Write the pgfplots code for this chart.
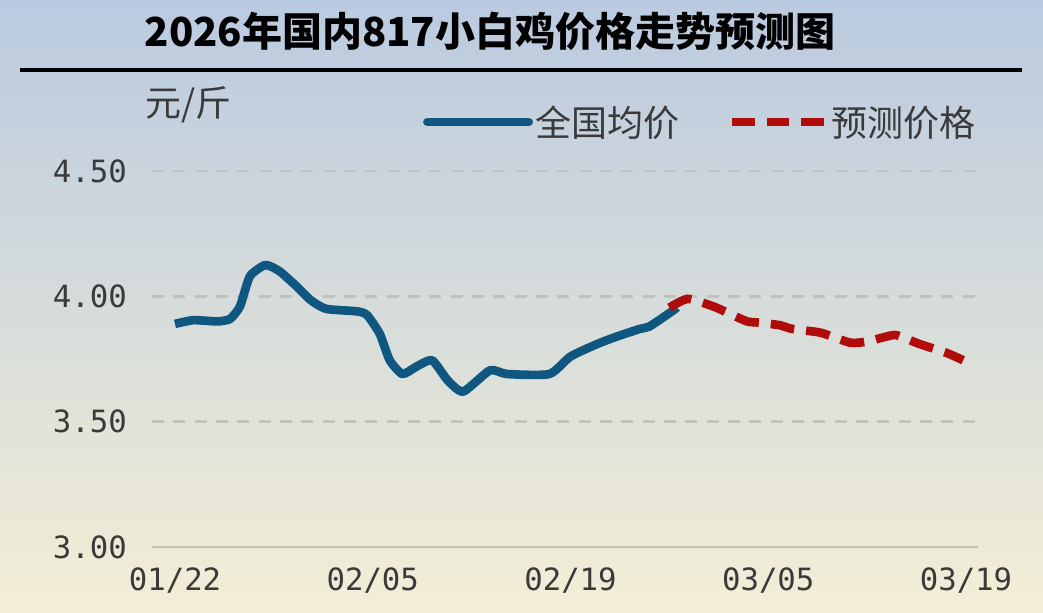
\documentclass[border=0pt]{standalone}
\usepackage{pgfplots}
\pgfplotsset{compat=1.18}
\usepackage{fontspec}
\setmainfont{Liberation Sans}
\setmonofont{DejaVu Sans Mono}
\newfontfamily\cjk{Noto Sans CJK SC}
\definecolor{bgtop}{HTML}{BACAE0}
\definecolor{bgmid}{HTML}{E6E7E2}
\definecolor{bgbot}{HTML}{F3EED6}
\definecolor{blueline}{HTML}{0F5780}
\definecolor{redline}{HTML}{B00C0C}
\definecolor{gridc}{HTML}{C2C2BA}
\definecolor{txt}{HTML}{3A3A3A}
\begin{document}
\begin{tikzpicture}
\path[use as bounding box] (0,0) rectangle (782.25pt,459pt);
\shade[top color=bgtop, middle color=bgmid, bottom color=bgbot] (0,0) rectangle (782.25pt,459pt);
\node[font=\cjk\bfseries\fontsize{30}{30}\selectfont, text=black] at (367.5pt,435.75pt) {2026年国内817小白鸡价格走势预测图};
\draw[line width=3pt, black] (15pt,406.5pt) -- (766.5pt,406.5pt);
\node[anchor=west, inner sep=0pt, font=\cjk\fontsize{27}{27}\selectfont, text=txt] at (108.75pt,380.25pt) {元/斤};
\begin{axis}[
  at={(114pt,48.75pt)}, anchor=south west, scale only axis,
  width=619.5pt, height=282pt,
  xmin=-1.63, xmax=56.85, ymin=3, ymax=4.5,
  axis line style={draw=none},
  major tick length=0pt,
  xtick={0,14,28,42,56}, xticklabels={01/22,02/05,02/19,03/05,03/19},
  ytick={3.5,4,4.5}, yticklabels={3.50,4.00,4.50},
  extra y ticks={3}, extra y tick labels={3.00},
  extra y tick style={grid=major, major grid style={solid, draw=gridc, line width=2pt}},
  ymajorgrids,
  major grid style={draw=gridc, line width=1.8pt, dash pattern=on 9pt off 7pt},
  ticklabel style={font=\ttfamily\fontsize{23}{23}\selectfont, text=txt},
  yticklabel style={anchor=east, inner sep=0pt, xshift=-18.75pt},
  xticklabel style={anchor=north, inner sep=0pt, yshift=-15pt},
  legend style={at={(1,1.13)}, anchor=east, draw=none, fill=none, inner sep=0pt,
    font=\cjk\fontsize{27}{27}\selectfont, text=txt, legend columns=2,
    /tikz/every even column/.append style={column sep=34pt}},
  legend cell align=left,
  clip=false,
]
\addplot[blueline, line width=6.5pt, smooth, tension=0.35, line join=round,
  legend image code/.code={\draw[blueline, line width=6.5pt, line cap=round] (0pt,0pt) -- (76pt,0pt);}]
coordinates {
(0,3.89) (1.3,3.905) (3.0,3.90) (3.9,3.91) (4.6,3.96) (5.3,4.08) (6.4,4.125)
(7.4,4.10) (8.6,4.04) (9.6,3.985) (10.7,3.95) (12.9,3.94) (13.6,3.925)
(14.5,3.85) (15.2,3.745) (16.1,3.69) (17.1,3.72) (18.2,3.745) (19.3,3.665)
(20.4,3.62) (22.3,3.705) (23.5,3.69) (26.5,3.69) (28.0,3.76) (29.9,3.81)
(31.3,3.84) (32.9,3.87) (33.6,3.88) (35.3,3.945) (35.5,3.955)
};
\addlegendentry{全国均价}
\addplot[redline, line width=6.5pt, smooth, tension=0.35, dash pattern=on 18pt off 9pt,
  legend image code/.code={\draw[redline, line width=6.5pt, dash pattern=on 17pt off 9pt] (0pt,0pt) -- (69pt,0pt);}]
coordinates {
(35.0,3.955) (36.3,3.99) (38.1,3.96) (39.1,3.935) (40.5,3.90) (41.4,3.895)
(42.8,3.885) (43.7,3.87) (45.7,3.855) (47.8,3.815) (49.0,3.82) (50.4,3.84)
(51.1,3.845) (52.7,3.81) (54.6,3.775) (55.8,3.745)
};
\addlegendentry{预测价格}
\end{axis}
\end{tikzpicture}
\end{document}
